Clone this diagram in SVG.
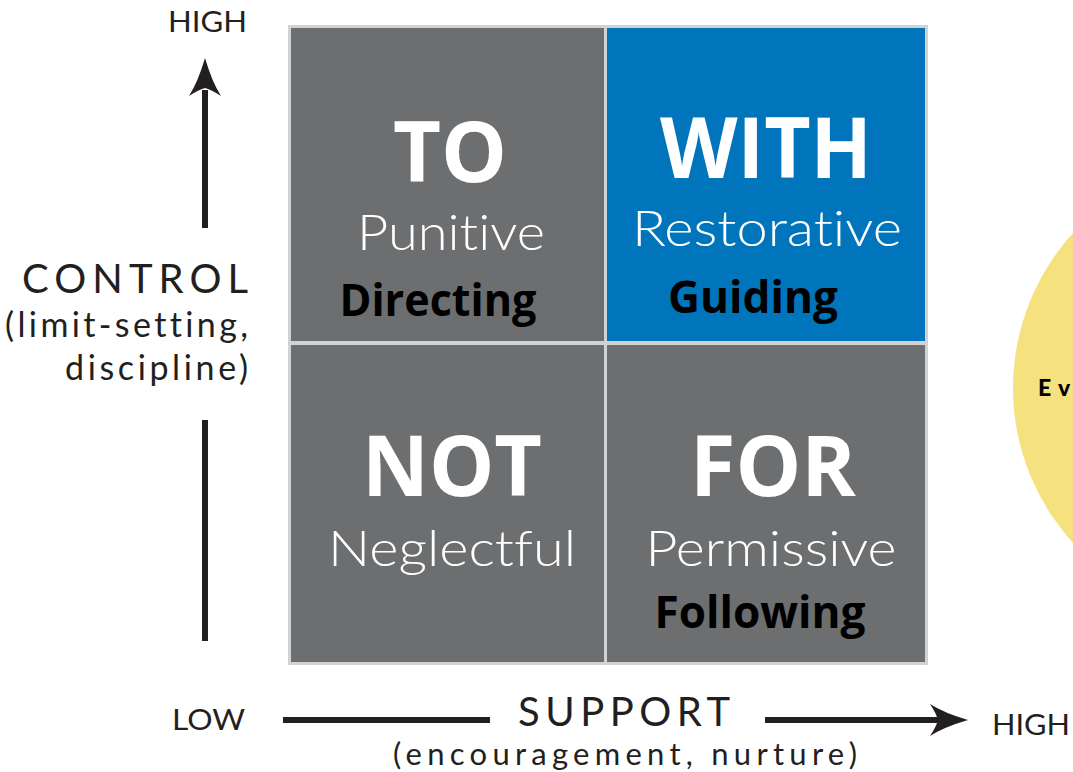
<svg xmlns="http://www.w3.org/2000/svg" width="1073" height="772" viewBox="0 0 1073 772">
<style>
text{font-variant-ligatures:none;font-feature-settings:"liga" 0,"dlig" 0}
.ax{font-family:Lato,"Open Sans",sans-serif;fill:#231f20}
.big{font-family:"Open Sans",Lato,sans-serif;font-weight:700;fill:#fff;font-size:84px;text-anchor:middle}
.mid{font-family:Lato,"Open Sans",sans-serif;font-weight:300;fill:#fff;font-size:50px;text-anchor:middle}
.bl{font-family:"Open Sans","Liberation Sans",sans-serif;font-weight:700;fill:#000;font-size:44px;text-anchor:middle}
.gray{fill:#6d6e70}
</style>
<rect width="1073" height="772" fill="#fff"/>
<g id="circle">
<circle cx="1243" cy="388" r="230" fill="#f5e17e"/>
<text y="396" font-family="Lato,'Open Sans',sans-serif" font-weight="900" font-size="23" fill="#000"><tspan x="1038">E</tspan><tspan x="1058">v</tspan></text>
</g>
<g id="grid">
<rect x="288" y="25" width="640" height="640" fill="#d1d2d4"/>
</g>
<g id="to">
<rect x="291" y="28" width="313" height="313" class="gray"/>
<text x="450" y="182" class="big" textLength="114" lengthAdjust="spacingAndGlyphs">TO</text>
<text x="451" y="250" class="mid" textLength="188" lengthAdjust="spacingAndGlyphs">Punitive</text>
<text x="438" y="316" class="bl" textLength="197" lengthAdjust="spacingAndGlyphs">Directing</text>
</g>
<g id="with">
<rect x="607" y="28" width="318" height="313" fill="#0075bb"/>
<text x="766" y="178" class="big" textLength="212" lengthAdjust="spacingAndGlyphs">WITH</text>
<text x="767" y="246" class="mid" textLength="270" lengthAdjust="spacingAndGlyphs">Restorative</text>
<text x="753" y="313" class="bl" textLength="170" lengthAdjust="spacingAndGlyphs">Guiding</text>
</g>
<g id="not">
<rect x="291" y="345" width="313" height="317" class="gray"/>
<text x="452" y="496" class="big" textLength="180" lengthAdjust="spacingAndGlyphs">NOT</text>
<text x="452" y="566" class="mid" textLength="248" lengthAdjust="spacingAndGlyphs">Neglectful</text>
</g>
<g id="for">
<rect x="607" y="345" width="318" height="317" class="gray"/>
<text x="773" y="496" class="big" textLength="166" lengthAdjust="spacingAndGlyphs">FOR</text>
<text x="771" y="566" class="mid" textLength="251" lengthAdjust="spacingAndGlyphs">Permissive</text>
<text x="760" y="628" class="bl" textLength="211" lengthAdjust="spacingAndGlyphs">Following</text>
</g>
<g id="connectors" fill="#231f20" stroke="#231f20">
<line x1="205" y1="90" x2="205" y2="228" stroke-width="6"/>
<path d="M205 58 Q198 82 189 96 Q198 90 205 88 Q212 90 221 96 Q212 82 205 58Z" stroke="none"/>
<line x1="205" y1="420" x2="205" y2="641" stroke-width="6"/>
<line x1="283" y1="720" x2="490" y2="720" stroke-width="6"/>
<line x1="765" y1="720" x2="945" y2="720" stroke-width="6"/>
<path d="M968 720 Q944 713 930 704 Q936 713 938 720 Q936 727 930 736 Q944 727 968 720Z" stroke="none"/>
</g>
<g id="labels" class="ax">
<text x="168" y="32" font-size="29" textLength="79" lengthAdjust="spacingAndGlyphs">HIGH</text>
<text x="22" y="293" font-size="40" textLength="226" lengthAdjust="spacing">CONTROL</text>
<text x="5" y="337" font-size="34" textLength="243" lengthAdjust="spacing">(limit-setting,</text>
<text x="65" y="380" font-size="34" textLength="183" lengthAdjust="spacing">discipline)</text>
<text x="172" y="730" font-size="29" textLength="73" lengthAdjust="spacingAndGlyphs">LOW</text>
<text x="518" y="726" font-size="40" textLength="212" lengthAdjust="spacing">SUPPORT</text>
<text x="393" y="765" font-size="31" textLength="464" lengthAdjust="spacing">(encouragement, nurture)</text>
<text x="992" y="735" font-size="29" textLength="78" lengthAdjust="spacingAndGlyphs">HIGH</text>
</g>
</svg>
